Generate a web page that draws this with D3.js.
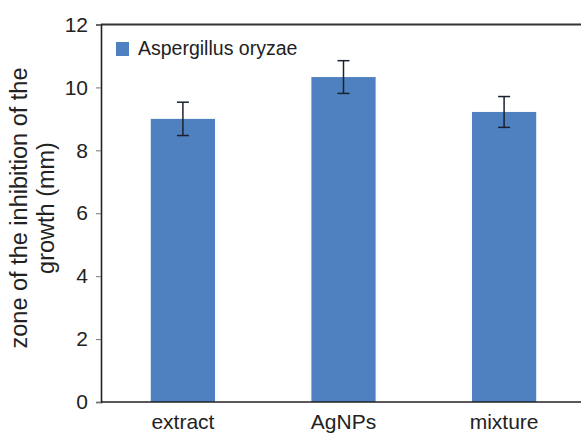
<!DOCTYPE html>
<html>
<head>
<meta charset="utf-8">
<script src="https://cdn.jsdelivr.net/npm/d3@7"></script>
<style>
  html, body { margin: 0; padding: 0; background: #fff; }
  svg { display: block; font-family: "Liberation Sans", Arial, sans-serif; }
</style>
</head>
<body>
<svg id="chart" width="581" height="434"></svg>
<script>
const categories = ["extract", "AgNPs", "mixture"];
const values = [9.0, 10.33, 9.22];
const errors = [0.53, 0.52, 0.49];
const yTicks = [0, 2, 4, 6, 8, 10, 12];
const seriesName = "Aspergillus oryzae";
const yTitleLines = ["zone of the inhibition of the", "growth (mm)"];

const W = 581, H = 434;
const svg = d3.select("#chart");
const barColor = "#4f80bf";

const x = d3.scaleBand().domain(categories).range([101, 586]).paddingInner(0.6).paddingOuter(0.31);
const y = d3.scaleLinear().domain([0, 12]).range([402, 24.5]);

// top frame line
svg.append("line")
  .attr("x1", 101).attr("x2", W)
  .attr("y1", y(12)).attr("y2", y(12))
  .attr("stroke", "#333").attr("stroke-width", 1.8);

// bars
svg.selectAll("rect.bar").data(categories).enter().append("rect")
  .attr("class", "bar")
  .attr("x", d => x(d))
  .attr("width", x.bandwidth())
  .attr("y", (d, i) => y(values[i]))
  .attr("height", (d, i) => y(0) - y(values[i]))
  .attr("fill", barColor);

// error bars
const eb = svg.selectAll("g.err").data(categories).enter().append("g").attr("class", "err");
eb.append("line")
  .attr("x1", d => x(d) + x.bandwidth() / 2)
  .attr("x2", d => x(d) + x.bandwidth() / 2)
  .attr("y1", (d, i) => y(values[i] + errors[i]))
  .attr("y2", (d, i) => y(values[i] - errors[i]))
  .attr("stroke", "#1a2230").attr("stroke-width", 1.5);
[1, -1].forEach(s => {
  eb.append("line")
    .attr("x1", d => x(d) + x.bandwidth() / 2 - 6)
    .attr("x2", d => x(d) + x.bandwidth() / 2 + 6)
    .attr("y1", (d, i) => y(values[i] + s * errors[i]))
    .attr("y2", (d, i) => y(values[i] + s * errors[i]))
    .attr("stroke", "#1a2230").attr("stroke-width", 1.5);
});

// y axis
const yAxis = svg.append("g")
  .attr("transform", "translate(101,0)")
  .call(d3.axisLeft(y).tickValues(yTicks).tickSize(5).tickPadding(8).tickFormat(d3.format("d")));
yAxis.select(".domain").attr("stroke", "#222").attr("stroke-width", 1.6);
yAxis.selectAll(".tick line").attr("stroke", "#777").attr("stroke-width", 1);
yAxis.selectAll(".tick text").attr("fill", "#222").style("font-size", "21px")
  .style("font-family", "'Liberation Sans', Arial, sans-serif");

// x axis
const xAxis = svg.append("g")
  .attr("transform", `translate(0,${y(0)})`)
  .call(d3.axisBottom(x).tickSize(0).tickPadding(12));
xAxis.select(".domain").attr("d", `M101,0H${W}`).attr("stroke", "#222").attr("stroke-width", 1.6);
xAxis.selectAll(".tick text").attr("fill", "#222").style("font-size", "21px")
  .style("font-family", "'Liberation Sans', Arial, sans-serif");

// y title
const yt = svg.append("text")
  .attr("transform", "translate(0,208) rotate(-90)")
  .attr("text-anchor", "middle")
  .attr("fill", "#222")
  .style("font-size", "23.5px");
yTitleLines.forEach((t, i) => {
  yt.append("tspan").attr("x", 0).attr("y", 27 + i * 27).text(t);
});

// legend
svg.append("rect").attr("x", 116).attr("y", 42).attr("width", 13).attr("height", 14).attr("fill", barColor);
svg.append("text").attr("x", 138).attr("y", 55).attr("fill", "#222")
  .style("font-size", "19.5px").text(seriesName);
</script>
</body>
</html>
